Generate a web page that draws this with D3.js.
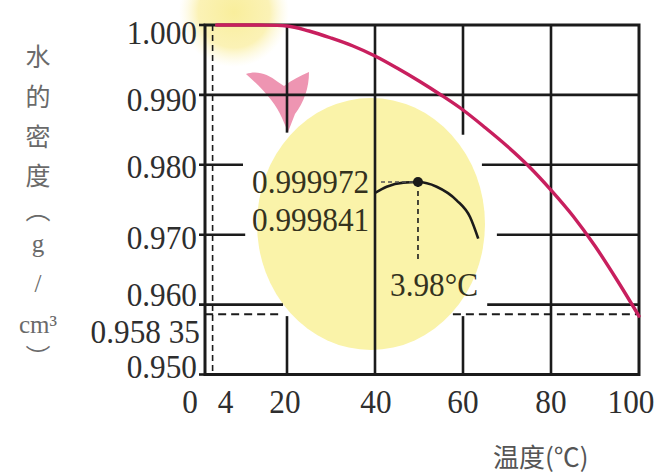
<!DOCTYPE html>
<html>
<head>
<meta charset="utf-8">
<script src="https://cdn.jsdelivr.net/npm/d3@7/dist/d3.min.js"></script>
<style>
  html, body { margin: 0; padding: 0; background: #fff; }
  svg { display: block; }
</style>
</head>
<body>
<svg id="chart" width="662" height="475"></svg>
<script>
// ---- data ----
const tempTicks = [0, 4, 20, 40, 60, 80, 100];
const tempTickLabels = ["0", "4", "20", "40", "60", "80", "100"];
const gridTemps = [20, 40, 60, 80, 100];
const densityTicks = [1.000, 0.990, 0.980, 0.970, 0.960, 0.950];
const densityTickLabels = ["1.000", "0.990", "0.980", "0.970", "0.960", "0.950"];
const boilTemp = 100;
const boilDensity = 0.95835;
const boilLabel = "0.958 35";
const maxTemp = 4;
const maxDensity = 1.000;

// density of water, 4–100 °C
const curveTemps   = [4, 10, 15, 20, 25, 30, 35, 40, 45, 50, 55, 60, 65, 70, 75, 80, 85, 90, 95, 100];
const curveDensity = [1.0000, 1.0000, 0.99998, 0.99986, 0.99914, 0.99814, 0.99700, 0.99557,
                      0.99385, 0.99199, 0.98999, 0.98784, 0.98534, 0.98269, 0.97976, 0.97639,
                      0.97268, 0.96838, 0.96352, 0.95835];

// enlarged view near the maximum, 0–10 °C
const insetTemps   = [0, 1.08, 2.62, 3.98, 5.71, 7.56, 8.8, 9.56];
const insetDensity = [0.999841, 0.999916, 0.999965, 0.999972, 0.999916, 0.999754, 0.999555, 0.999298];
const insetPeak  = { t: 3.98, d: 0.999972, label: "0.999972", tLabel: "3.98°C" };
const insetStart = { t: 0, d: 0.999841, label: "0.999841" };

// ---- layout ----
const svg = d3.select("#chart");
const x = d3.scaleLinear().domain([0, 100]).range([199, 639]);
const y = d3.scaleLinear().domain([0.95, 1.0]).range([374.5, 25]);
const ix = d3.scaleLinear().domain([0, 10]).range([x(40), x(40) + 108]);
const iy = d3.scaleLinear().domain([0.999841, 0.999972]).range([193, 182]);

const frameLeft = x(0) + 6;
const ink = "#1b1b1b";
const numFont = "'Liberation Serif', 'DejaVu Serif', serif";
const cjkFont = "'Noto Sans CJK SC', 'Noto Sans', sans-serif";

// ---- background highlights ----
svg.append("ellipse")
  .attr("cx", 371).attr("cy", 224).attr("rx", 114).attr("ry", 126)
  .attr("fill", "#faf3a9");

const glow = svg.append("defs").append("radialGradient").attr("id", "glow");
glow.append("stop").attr("offset", "0%").attr("stop-color", "#f9ee9c");
glow.append("stop").attr("offset", "65%").attr("stop-color", "#fbf2b6");
glow.append("stop").attr("offset", "100%").attr("stop-color", "#fdf8d8").attr("stop-opacity", 0);
svg.append("circle").attr("cx", 234).attr("cy", 12).attr("r", 55).attr("fill", "url(#glow)");

// pointer from the small region to the enlarged view
svg.append("path")
  .attr("d", "M246,74 C257,70 268,74 278,82 L284,86 C292,80 300,76 309,72 C309,88 304,102 295,114 L288,132 L282,118 C276,104 264,90 246,74 Z")
  .attr("fill", "#ec8aaa").attr("opacity", 0.9);

// ---- grid ----
const hLine = (d, t0, t1) => svg.append("line")
  .attr("x1", x(t0)).attr("x2", x(t1)).attr("y1", y(d)).attr("y2", y(d))
  .attr("stroke", ink).attr("stroke-width", 2.6);
const vLine = (t, d0, d1) => svg.append("line")
  .attr("x1", x(t)).attr("x2", x(t)).attr("y1", y(d0)).attr("y2", y(d1))
  .attr("stroke", ink).attr("stroke-width", 2.6);

// horizontal grid, broken where the enlarged view sits
const hSegments = {
  "0.99": [[0, 100]],
  "0.98": [[0, 10], [64.3, 100]],
  "0.97": [[0, 10.5], [67.7, 100]],
  "0.96": [[0, 19.1], [65.5, 100]]
};
densityTicks.forEach(d => {
  const segs = hSegments[String(+d.toFixed(2))];
  if (segs) segs.forEach(([a, b]) => hLine(d, a, b));
});

// vertical grid
const vSegments = {
  20: [[1.0, 0.9846], [boilDensity, 0.95]],
  40: [[1.0, 0.95]],
  60: [[1.0, 0.9843], [boilDensity, 0.95]],
  80: [[1.0, 0.95]]
};
gridTemps.forEach(t => {
  const segs = vSegments[t];
  if (segs) segs.forEach(([a, b]) => vLine(t, a, b));
});

// frame
svg.append("path")
  .attr("d", `M${frameLeft},${y(1.0)} H${x(100)} V${y(0.95)} H${frameLeft} Z`)
  .attr("fill", "none").attr("stroke", ink).attr("stroke-width", 3);
hLine(1.0, 0, 1.4);
hLine(0.95, 0, 1.4);

// reference lines: 4 °C and the density at 100 °C
svg.append("line")
  .attr("x1", x(maxTemp) - 4).attr("x2", x(maxTemp) - 4)
  .attr("y1", y(maxDensity)).attr("y2", y(0.95))
  .attr("stroke", ink).attr("stroke-width", 1.6).attr("stroke-dasharray", "6,4");
[[1.4, 19.1], [57.7, boilTemp]].forEach(([a, b]) => svg.append("line")
  .attr("x1", x(a)).attr("x2", x(b)).attr("y1", y(boilDensity) - 2).attr("y2", y(boilDensity) - 2)
  .attr("stroke", ink).attr("stroke-width", 2).attr("stroke-dasharray", "8,5"));

// ---- main curve ----
const curve = d3.line()
  .x((d, i) => x(curveTemps[i]))
  .y(d => y(d))
  .curve(d3.curveMonotoneX);
svg.append("path")
  .datum(curveDensity)
  .attr("d", curve)
  .attr("fill", "none")
  .attr("stroke", "#c81f5e")
  .attr("stroke-width", 3.4)
  .attr("stroke-linecap", "round");

// ---- enlarged view near 4 °C ----
const insetLine = d3.line()
  .x((d, i) => ix(insetTemps[i]))
  .y(d => iy(d))
  .curve(d3.curveMonotoneX);
svg.append("path")
  .datum(insetDensity)
  .attr("d", insetLine)
  .attr("fill", "none").attr("stroke", ink).attr("stroke-width", 2.6);

svg.append("line")
  .attr("x1", ix(insetPeak.t)).attr("x2", ix(insetPeak.t))
  .attr("y1", iy(insetPeak.d)).attr("y2", iy(insetPeak.d) + 80)
  .attr("stroke", ink).attr("stroke-width", 1.6).attr("stroke-dasharray", "5,4");
svg.append("line")
  .attr("x1", ix(0) + 6).attr("x2", ix(insetPeak.t))
  .attr("y1", iy(insetPeak.d)).attr("y2", iy(insetPeak.d))
  .attr("stroke", "#555").attr("stroke-width", 1.4).attr("stroke-dasharray", "4,3");
svg.append("circle")
  .attr("cx", ix(insetPeak.t)).attr("cy", iy(insetPeak.d)).attr("r", 5)
  .attr("fill", ink);

// ---- text ----
const numText = (tx, ty, str, anchor, fill) => svg.append("text")
  .attr("transform", `translate(${tx},${ty}) scale(0.92,1)`)
  .attr("text-anchor", anchor)
  .attr("dy", "0.35em")
  .attr("font-family", numFont)
  .attr("font-size", 34)
  .attr("fill", fill || "#2e2e2e")
  .text(str);

// y tick labels
const yLabelNudge = { "1.000": 7, "0.990": 4, "0.980": 1, "0.970": 2, "0.960": -11, "0.950": -8 };
densityTicks.forEach((d, i) => {
  const s = densityTickLabels[i];
  numText(197, y(d) + (yLabelNudge[s] || 0), s, "end");
});
numText(200, y(boilDensity) + 15, boilLabel, "end");

// x tick labels
const xLabelNudge = { "0": -9, "4": 9, "20": -2, "40": 1, "100": -8 };
tempTicks.forEach((t, i) => {
  const s = tempTickLabels[i];
  numText(x(t) + (xLabelNudge[s] || 0), 401, s, "middle");
});

// labels of the enlarged view
numText(252, iy(insetPeak.d) - 1, insetPeak.label, "start", "#34321e");
numText(252, 219, insetStart.label, "start", "#34321e");
numText(390, 284, insetPeak.tLabel, "start", "#34321e");

// axis titles
svg.append("text")
  .attr("x", 493).attr("y", 467)
  .attr("font-family", cjkFont).attr("font-size", 26)
  .attr("fill", "#555")
  .text("温度(℃)");

const yTitle = [
  { s: "水", y: 57, f: cjkFont },
  { s: "的", y: 97, f: cjkFont },
  { s: "密", y: 137, f: cjkFont },
  { s: "度", y: 176, f: cjkFont },
  { s: "︵", y: 210, f: cjkFont },
  { s: "g", y: 243, f: numFont },
  { s: "/", y: 283, f: numFont },
  { s: "cm³", y: 324, f: numFont },
  { s: "︶", y: 358, f: cjkFont }
];
svg.append("g").selectAll("text")
  .data(yTitle)
  .join("text")
  .attr("x", 38).attr("y", d => d.y)
  .attr("dy", "0.35em")
  .attr("text-anchor", "middle")
  .attr("font-family", d => d.f)
  .attr("font-size", 25)
  .attr("fill", "#6a6a6a")
  .text(d => d.s);
</script>
</body>
</html>
